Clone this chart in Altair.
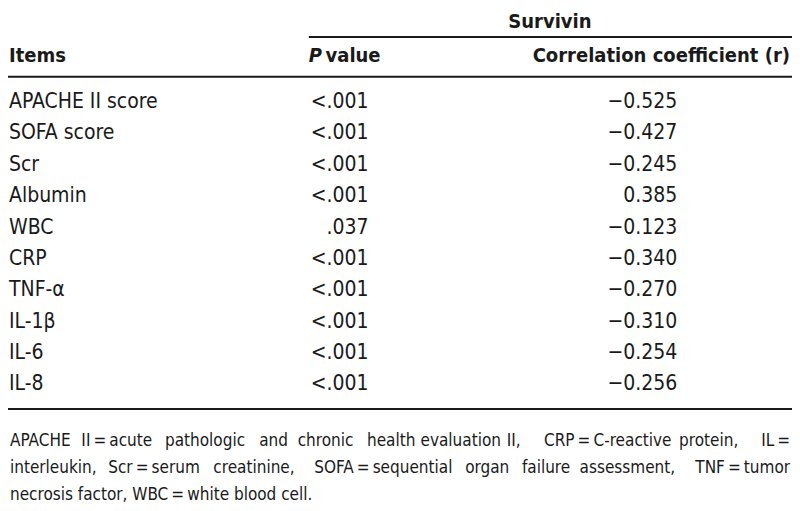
import altair as alt
import pandas as pd

# ---- table content ----
group_header = "Survivin"
col_headers = ["Items", "P value", "Correlation coefficient (r)"]
items = ["APACHE II score", "SOFA score", "Scr", "Albumin", "WBC", "CRP",
         "TNF-\u03b1", "IL-1\u03b2", "IL-6", "IL-8"]
p_values = ["<.001", "<.001", "<.001", "<.001", ".037", "<.001",
            "<.001", "<.001", "<.001", "<.001"]
r_values = [-0.525, -0.427, -0.245, 0.385, -0.123, -0.340,
            -0.270, -0.310, -0.254, -0.256]
EQ = "\u2009=\u2009"
footnote_words = [
    ["APACHE", f"II{EQ}acute", "pathologic", "and", "chronic", "health",
     "evaluation", "II,", f"CRP{EQ}C-reactive", "protein,", f"IL{EQ}"],
    ["interleukin,", f"Scr{EQ}serum", "creatinine,", f"SOFA{EQ}sequential",
     "organ", "failure", "assessment,", f"TNF{EQ}tumor"],
    [f"necrosis factor, WBC{EQ}white blood cell."],
]

# ---- layout (reference-pixel space) ----
W, H = 784, 495
FONT = "Liberation Sans Narrow, DejaVu Sans Condensed, Roboto Condensed, Arial Narrow, Liberation Sans, sans-serif"
INK = "#1a1a1a"
row0, row_step = 97, 32.4
# justified footnote: word anchor positions per line (first word left, last right, rest centred)
foot_word_x = [
    [2, 111, 201, 271, 324, 391, 462, 516, 612, 715, 798],
    [2, 149, 251, 383, 489, 549, 632, 798],
    [2],
]
foot_y0, foot_step = 447, 28

def fmt_r(v):
    return f"{v:.3f}".replace("-", "\u2212")

body = []
for i, (it, p, r) in enumerate(zip(items, p_values, r_values)):
    y = row0 + i * row_step
    body.append({"x": 1, "y": y, "t": it, "a": "left"})
    body.append({"x": 368, "y": y, "t": p, "a": "right"})
    body.append({"x": 683, "y": y, "t": fmt_r(r), "a": "right"})
body_df = pd.DataFrame(body)

xs = alt.Scale(domain=[0, 800], range=[0, W])
ys = alt.Scale(domain=[0, 511], range=[0, H])

def X(f="x"):
    return alt.X(f"{f}:Q", scale=xs, axis=None)

def Y(f="y"):
    return alt.Y(f"{f}:Q", scale=ys, axis=None)

def text_layer(df, size, weight="normal", style="normal", align="left"):
    return alt.Chart(df).mark_text(
        font=FONT, fontSize=size, fontWeight=weight, fontStyle=style,
        align=align, baseline="middle", color=INK
    ).encode(x=X(), y=Y(), text="t:N")

body_left = text_layer(body_df[body_df.a == "left"], 21)
body_right = text_layer(body_df[body_df.a == "right"], 21, align="right")

HS = 20
hdr_left = text_layer(pd.DataFrame([{"x": 1, "y": 50, "t": col_headers[0]}]), HS, weight="bold")
hdr_p = text_layer(pd.DataFrame([{"x": 307, "y": 50, "t": col_headers[1].split(" ")[0]}]),
                   HS, weight="bold", style="italic")
hdr_val = text_layer(pd.DataFrame([{"x": 324, "y": 50, "t": col_headers[1].split(" ", 1)[1]}]),
                     HS, weight="bold")
hdr_r = text_layer(pd.DataFrame([{"x": 798, "y": 50, "t": col_headers[2]}]),
                   HS, weight="bold", align="right")
hdr_grp = text_layer(pd.DataFrame([{"x": 553, "y": 14, "t": group_header}]),
                     HS, weight="bold", align="center")

foot_rows = []
for li, (words, xs_line) in enumerate(zip(footnote_words, foot_word_x)):
    n = len(words)
    for wi, (w, x) in enumerate(zip(words, xs_line)):
        if wi == 0:
            a = "left"
        elif wi == n - 1:
            a = "right"
        else:
            a = "center"
        foot_rows.append({"x": x, "y": foot_y0 + foot_step * li, "t": w, "a": a})
foot_df = pd.DataFrame(foot_rows)
FS = 17
foot_layers = [
    text_layer(foot_df[foot_df.a == a], FS, align=a) for a in ["left", "center", "right"]
]

rules_df = pd.DataFrame([
    {"x": 307, "x2": 800, "y": 30},
    {"x": 0, "x2": 800, "y": 71},
    {"x": 0, "x2": 800, "y": 414},
])
rules = alt.Chart(rules_df).mark_rule(color=INK, strokeWidth=2).encode(
    x=X(), x2="x2:Q", y=Y()
)

chart = alt.layer(
    rules, hdr_grp, hdr_left, hdr_p, hdr_val, hdr_r, body_left, body_right, *foot_layers
).properties(
    width=W, height=H, padding=0, autosize=alt.AutoSizeParams(type="none")
).configure(background="white", view=alt.ViewConfig(stroke=None))

chart.save("out.html", embed_options={"renderer": "svg", "actions": False})
